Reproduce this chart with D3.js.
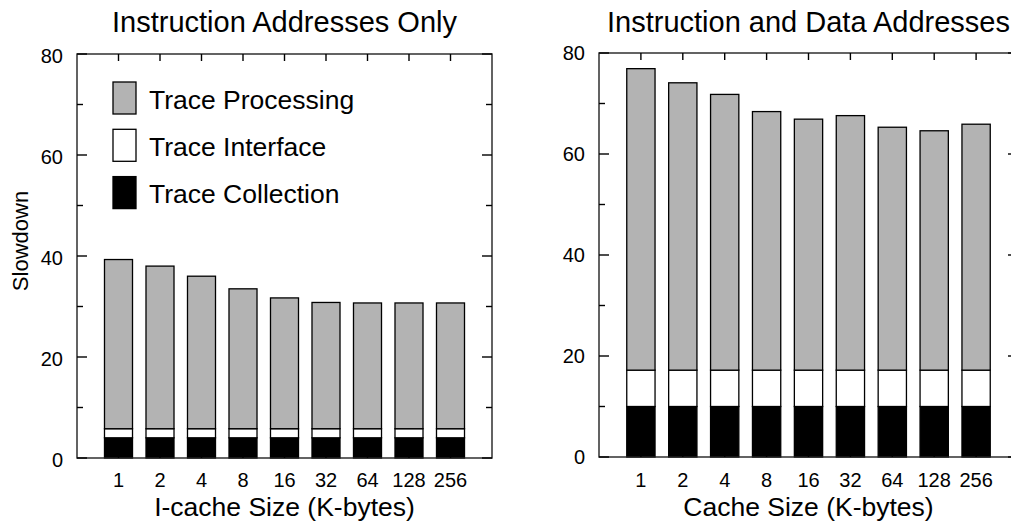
<!DOCTYPE html>
<html><head><meta charset="utf-8">
<script src="https://cdn.jsdelivr.net/npm/d3@7"></script>
<style>
body{margin:0;background:#fff}
text{font-family:"Liberation Sans",Arial,Helvetica,sans-serif;fill:#000}
</style></head>
<body><svg id="c" width="1011" height="527"></svg>
<script>
const categories = ["1","2","4","8","16","32","64","128","256"];
const seriesNames = ["Trace Collection","Trace Interface","Trace Processing"];
// left panel: Instruction Addresses Only (segment heights)
const leftCollection = [4,4,4,4,4,4,4,4,4];
const leftInterface  = [1.8,1.8,1.8,1.8,1.8,1.8,1.8,1.8,1.8];
const leftTotal      = [39.3,38.0,36.0,33.5,31.7,30.8,30.7,30.7,30.7];
// right panel: Instruction and Data Addresses
const rightCollection = [10,10,10,10,10,10,10,10,10];
const rightInterface  = [7.2,7.2,7.2,7.2,7.2,7.2,7.2,7.2,7.2];
const rightTotal      = [76.9,74.1,71.8,68.4,66.9,67.6,65.3,64.6,65.9];
const yTicks = [0,20,40,60,80];
const yMinor = [10,30,50,70];

const colors = {"Trace Collection":"#000","Trace Interface":"#fff","Trace Processing":"#b3b3b3"};
const svg = d3.select("#c");

function panel(o){
  const g = svg.append("g");
  const x = d3.scaleLinear().domain([0,10]).range([o.x0,o.x1]);
  const y = d3.scaleLinear().domain([0,80]).range([o.y0,o.y1]);
  const rows = categories.map((c,i)=>{
    const col=o.col[i], inter=o.inter[i], tot=o.tot[i];
    return [
      {k:"Trace Collection",a:0,b:col},
      {k:"Trace Interface",a:col,b:col+inter},
      {k:"Trace Processing",a:col+inter,b:tot}
    ].map(s=>Object.assign(s,{i}));
  }).flat();
  const bw = x(0.675)-x(0);
  g.selectAll("rect.bar").data(rows).enter().append("rect")
    .attr("x",d=>x(d.i+1)-bw/2).attr("width",bw)
    .attr("y",d=>y(d.b)).attr("height",d=>y(d.a)-y(d.b))
    .attr("fill",d=>colors[d.k]).attr("stroke","#000").attr("stroke-width",1.3);
  // frame
  g.append("rect").attr("x",o.x0).attr("y",o.y1).attr("width",o.x1-o.x0).attr("height",o.y0-o.y1)
    .attr("fill","none").attr("stroke","#222").attr("stroke-width",1.4);
  // y ticks
  const tk = g.append("g").attr("stroke","#000").attr("stroke-width",1.4);
  yTicks.forEach(v=>{
    tk.append("line").attr("x1",o.x0).attr("x2",o.x0+10).attr("y1",y(v)).attr("y2",y(v));
    tk.append("line").attr("x1",o.x1).attr("x2",o.x1-10).attr("y1",y(v)).attr("y2",y(v));
  });
  yMinor.forEach(v=>{
    tk.append("line").attr("x1",o.x0).attr("x2",o.x0+6).attr("y1",y(v)).attr("y2",y(v));
    tk.append("line").attr("x1",o.x1).attr("x2",o.x1-6).attr("y1",y(v)).attr("y2",y(v));
  });
  categories.forEach((c,i)=>{
    tk.append("line").attr("x1",x(i+1)).attr("x2",x(i+1)).attr("y1",o.y1).attr("y2",o.y1+7);
    tk.append("line").attr("x1",x(i+1)).attr("x2",x(i+1)).attr("y1",o.y0).attr("y2",o.y0-7);
  });
  // y labels
  g.selectAll("text.yl").data(yTicks).enter().append("text")
    .attr("x",o.x0-14).attr("y",v=>y(v)+7+o.ydy).attr("text-anchor","end")
    .attr("font-size",20).text(v=>v);
  // x labels
  g.selectAll("text.xl").data(categories).enter().append("text")
    .attr("x",(c,i)=>x(i+1)).attr("y",487).attr("text-anchor","middle")
    .attr("font-size",20).text(c=>c);
  g.append("text").attr("x",(o.x0+o.x1)/2).attr("y",516).attr("text-anchor","middle")
    .attr("font-size",26.5).text(o.xtitle);
  g.append("text").attr("x",(o.x0+o.x1)/2).attr("y",32).attr("text-anchor","middle")
    .attr("font-size",29).text(o.title);
  return {x,y};
}

panel({x0:77,x1:492,y0:458,y1:54,col:leftCollection,inter:leftInterface,tot:leftTotal,
  title:"Instruction Addresses Only",xtitle:"I-cache Size (K-bytes)",ydy:2});
panel({x0:599,x1:1018,y0:457,y1:53,col:rightCollection,inter:rightInterface,tot:rightTotal,
  title:"Instruction and Data Addresses",xtitle:"Cache Size (K-bytes)",ydy:0});

svg.append("text").attr("transform","translate(28,241) rotate(-90)")
  .attr("text-anchor","middle").attr("font-size",22).text("Slowdown");

// legend
const legendOrder = ["Trace Processing","Trace Interface","Trace Collection"];
const lg = svg.append("g");
legendOrder.forEach((k,i)=>{
  lg.append("rect").attr("x",113).attr("y",82+i*47.3).attr("width",23).attr("height",32)
    .attr("fill",colors[k]).attr("stroke","#000").attr("stroke-width",1.3);
  lg.append("text").attr("x",149).attr("y",108.5+i*47.3).attr("font-size",26.5).text(k);
});
</script></body></html>
